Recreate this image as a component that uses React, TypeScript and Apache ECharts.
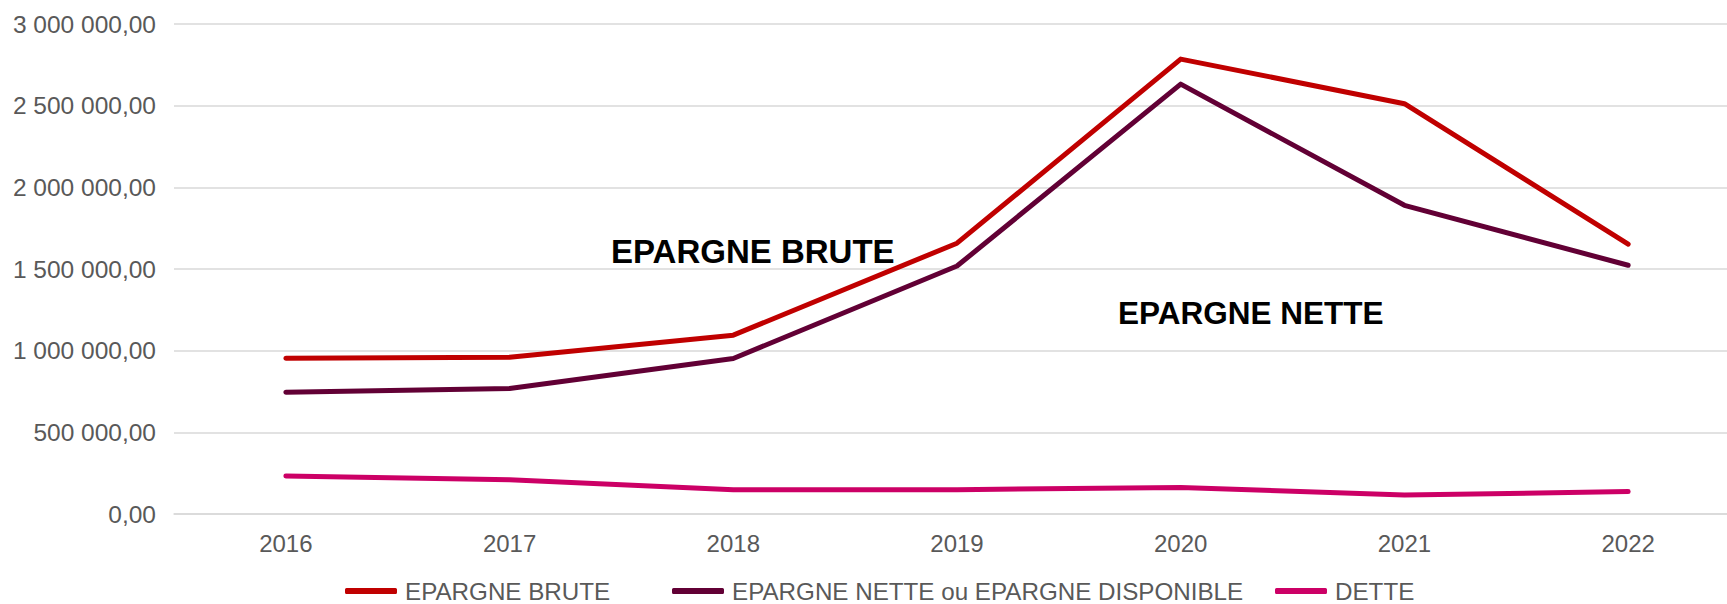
import React, { useEffect, useRef } from "react";
import * as echarts from "echarts";

const years = ["2016", "2017", "2018", "2019", "2020", "2021", "2022"];
const epargneBrute = [953000, 960000, 1095000, 1658000, 2785000, 2512000, 1652000];
const epargneNette = [746000, 768000, 952000, 1518000, 2632000, 1890000, 1523000];
const dette = [233000, 210000, 149000, 149000, 163000, 116000, 137000];
const seriesNames = ["EPARGNE BRUTE", "EPARGNE NETTE ou EPARGNE DISPONIBLE", "DETTE"];
const seriesColors = ["#C00000", "#620035", "#CC0066"];
const annotations = ["EPARGNE BRUTE", "EPARGNE NETTE"];
const legendLefts = [345, 672, 1275];

const FONT = "'Liberation Sans', Arial, sans-serif";

function fmt(v: number): string {
  const fixed = Math.abs(v).toFixed(2);
  const [intPart, dec] = fixed.split(".");
  const grouped = intPart.replace(/\B(?=(\d{3})+(?!\d))/g, " ");
  return (v < 0 ? "-" : "") + grouped + "," + dec;
}

export default function App() {
  const ref = useRef<HTMLDivElement>(null);
  useEffect(() => {
    if (!ref.current) return;
    const chart = echarts.init(ref.current, null, { renderer: "svg" });
    const data = [epargneBrute, epargneNette, dette];
    chart.setOption({
      animation: false,
      backgroundColor: "#ffffff",
      grid: {
        left: 174,
        top: 24,
        width: 1566,
        height: 490,
        containLabel: false,
        outerBoundsMode: "none",
      },
      xAxis: {
        type: "category",
        data: years,
        boundaryGap: true,
        axisLine: { show: true, lineStyle: { color: "#D9D9D9", width: 1.5 } },
        axisTick: { show: false },
        axisLabel: { color: "#595959", fontSize: 24, fontFamily: FONT, margin: 17 },
      },
      yAxis: {
        type: "value",
        min: 0,
        max: 3000000,
        interval: 500000,
        axisLine: { show: false },
        axisTick: { show: false },
        splitLine: { show: true, lineStyle: { color: "#D9D9D9", width: 1.5 } },
        axisLabel: {
          color: "#595959",
          fontSize: 24.5,
          fontFamily: FONT,
          margin: 18,
          formatter: (v: number) => fmt(v),
        },
      },
      legend: seriesNames.map((name, i) => ({
        left: legendLefts[i],
        top: 579,
        padding: 0,
        icon: "roundRect",
        itemWidth: 52,
        itemHeight: 6,
        textStyle: {
          color: "#595959",
          fontSize: 24.2,
          lineHeight: 24,
          fontFamily: FONT,
          padding: [0, 0, 0, 3],
        },
        data: [name],
      })),
      series: seriesNames.map((name, i) => ({
        name,
        type: "line",
        data: data[i],
        symbol: "none",
        color: seriesColors[i],
        lineStyle: { color: seriesColors[i], width: 5, cap: "round", join: "round" },
        z: 3 - i,
      })),
      graphic: [
        {
          type: "text",
          left: 611,
          top: 234.5,
          style: {
            text: annotations[0],
            font: `bold 33px ${FONT}`,
            fill: "#000000",
          },
        },
        {
          type: "text",
          left: 1118,
          top: 297,
          style: {
            text: annotations[1],
            font: `bold 31.5px ${FONT}`,
            fill: "#000000",
          },
        },
      ],
    });
    return () => chart.dispose();
  }, []);
  return (
    <div
      ref={ref}
      style={{ position: "fixed", left: 0, top: 0, width: 1727, height: 604, background: "#fff" }}
    />
  );
}
